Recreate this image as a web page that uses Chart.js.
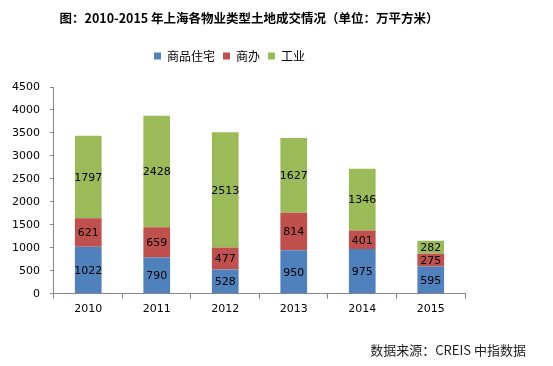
<!DOCTYPE html>
<html lang="zh">
<head>
<meta charset="UTF-8">
<title>上海各物业类型土地成交情况</title>
<script src="https://cdn.jsdelivr.net/npm/chart.js"></script>
<style>
  html, body { margin: 0; padding: 0; background: #fff; }
  #wrap { width: 553px; height: 366px; position: relative; }
</style>
</head>
<body>
<div id="wrap"><canvas id="chart"></canvas></div>
<script>
const years = ['2010', '2011', '2012', '2013', '2014', '2015'];
const residential = [1022, 790, 528, 950, 975, 595];
const office = [621, 659, 477, 814, 401, 275];
const industrial = [1797, 2428, 2513, 1627, 1346, 282];
const yTicks = [0, 500, 1000, 1500, 2000, 2500, 3000, 3500, 4000, 4500];
const titleText = '图：2010-2015 年上海各物业类型土地成交情况（单位：万平方米）';
const sourceText = '数据来源：CREIS 中指数据';

const numFont = "'DejaVu Sans', 'Noto Sans CJK SC', sans-serif";
const cjkFont = "'Noto Sans CJK SC', 'DejaVu Sans', sans-serif";

// numbers written inside each segment
const segmentLabels = {
  id: 'segmentLabels',
  afterDatasetsDraw(chart) {
    const ctx = chart.ctx;
    ctx.save();
    ctx.font = '11px ' + numFont;
    ctx.fillStyle = '#000';
    ctx.textAlign = 'center';
    ctx.textBaseline = 'middle';
    chart.data.datasets.forEach((ds, i) => {
      chart.getDatasetMeta(i).data.forEach((bar, j) => {
        const mid = (bar.y + bar.base) / 2;
        ctx.fillText(String(ds.data[j]), bar.x, mid + 1);
      });
    });
    ctx.restore();
  }
};

// title on top and source note at the bottom right
const headerFooter = {
  id: 'headerFooter',
  afterDraw(chart) {
    const ctx = chart.ctx;
    ctx.save();
    ctx.fillStyle = '#000';
    ctx.textBaseline = 'middle';
    ctx.font = 'bold 12.5px ' + cjkFont;
    ctx.textAlign = 'center';
    ctx.fillText(titleText, 249, 18);
    ctx.font = '13px ' + cjkFont;
    ctx.fillStyle = '#222';
    ctx.textAlign = 'right';
    ctx.fillText(sourceText, 526, 350);
    ctx.restore();
  }
};

// extra room under the legend, and nudge it a little to the left
const legendSpace = {
  id: 'legendSpace',
  beforeInit(chart) {
    const fit = chart.legend.fit;
    chart.legend.fit = function () {
      fit.call(this);
      this.height += 15;
    };
  },
  afterLayout(chart) {
    chart.legend.left -= 4;
    chart.legend.right -= 4;
  }
};

new Chart(document.getElementById('chart'), {
  type: 'bar',
  data: {
    labels: years,
    datasets: [
      { label: '商品住宅', data: residential, backgroundColor: '#4F81BD' },
      { label: '商办', data: office, backgroundColor: '#C0504D' },
      { label: '工业', data: industrial, backgroundColor: '#9BBB59' }
    ]
  },
  options: {
    responsive: true,
    maintainAspectRatio: false,
    animation: false,
    layout: { padding: { left: 2, right: 88, top: 42, bottom: 46 } },
    datasets: { bar: { categoryPercentage: 1, barPercentage: 0.39 } },
    plugins: {
      legend: {
        position: 'top',
        labels: {
          boxWidth: 7,
          boxHeight: 7,
          padding: 8,
          color: '#000',
          font: { family: cjkFont, size: 12 }
        }
      },
      tooltip: { enabled: false }
    },
    scales: {
      x: {
        stacked: true,
        grid: { drawOnChartArea: false, color: '#868686', tickLength: 5, offset: true },
        border: { color: '#868686' },
        ticks: { color: '#000', font: { family: numFont, size: 11 }, padding: 4 }
      },
      y: {
        stacked: true,
        min: 0,
        max: 4500,
        afterBuildTicks(axis) { axis.ticks = yTicks.map(v => ({ value: v })); },
        grid: { drawOnChartArea: false, color: '#868686', tickLength: 4 },
        border: { color: '#868686' },
        ticks: {
          color: '#000',
          font: { family: numFont, size: 11 },
          padding: 10,
          callback: v => String(v)
        }
      }
    }
  },
  plugins: [segmentLabels, headerFooter, legendSpace]
});
</script>
</body>
</html>
